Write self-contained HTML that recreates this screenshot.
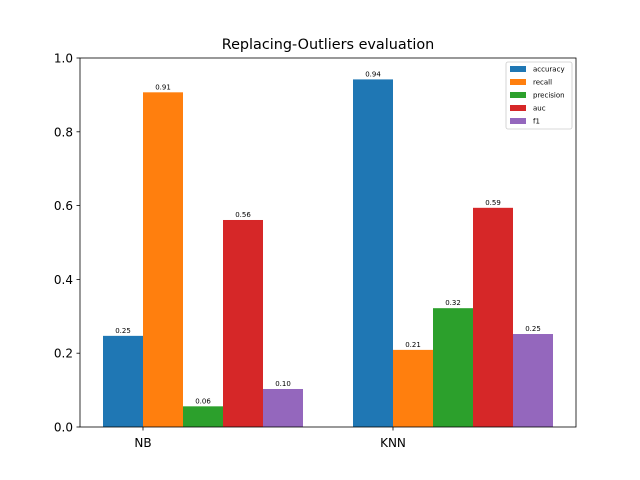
<!DOCTYPE html>
<html><head><meta charset="utf-8"><style>body{margin:0;background:#fff}svg{display:block;font-family:"DejaVu Sans","Liberation Sans",sans-serif}</style></head>
<body>
<svg id="chart" width="640" height="480">
<rect x="0" y="0" width="640" height="480" fill="#fff"/>
<text x="328" y="49" text-anchor="middle" font-size="14.4">Replacing-Outliers evaluation</text>
<g id="bars"></g>
<g id="axes"></g>
</svg>
<script>
const categories = ["NB", "KNN"];
const metrics = ["accuracy", "recall", "precision", "auc", "f1"];
const accuracy = [0.247, 0.942];
const recall = [0.907, 0.209];
const precision = [0.056, 0.322];
const auc = [0.561, 0.594];
const f1 = [0.103, 0.252];
const yTicks = [0.0, 0.2, 0.4, 0.6, 0.8, 1.0];
const colors = ["#1f77b4", "#ff7f0e", "#2ca02c", "#d62728", "#9467bd"];
const series = [accuracy, recall, precision, auc, f1];

const NS = "http://www.w3.org/2000/svg";
const L = 80, R = 576, T = 58, B = 427;
const y = v => B - v * (B - T);
const groupX = i => 143 + i * 250; // tick position
const barW = 40;
const barX = (i, k) => groupX(i) - barW + k * barW;
function mk(tag, attrs, parent) { const e = document.createElementNS(NS, tag); for (const a in attrs) e.setAttribute(a, attrs[a]); parent.appendChild(e); return e; }
const bars = document.getElementById("bars"), axes = document.getElementById("axes");
series.forEach((s, k) => {
  s.forEach((v, i) => {
    const r = mk("rect", {x: barX(i, k), y: y(v), width: barW, height: B - y(v), fill: colors[k]}, bars);
    
    
    const t = mk("text", {x: barX(i, k) + barW / 2, y: y(v) - 3, "text-anchor": "middle", "font-size": "7"}, bars);
    t.textContent = v.toFixed(2);
    
    
  });
});
const frame = mk("rect", {x: L, y: T, width: R - L, height: B - T, fill: "none", stroke: "#000", "stroke-width": "0.8"}, axes);


yTicks.forEach(v => {
  mk("line", {x1: L - 3.5, x2: L, y1: y(v), y2: y(v), stroke: "#000", "stroke-width": "0.8"}, axes);
  const t = mk("text", {x: L - 7, y: y(v) + 4.5, "text-anchor": "end", "font-size": "12"}, axes);
  t.textContent = v.toFixed(1);
  
  
});
categories.forEach((c, i) => {
  mk("line", {x1: groupX(i), x2: groupX(i), y1: B, y2: B + 3.5, stroke: "#000", "stroke-width": "0.8"}, axes);
  const t = mk("text", {x: groupX(i), y: B + 20, "text-anchor": "middle", "font-size": "12"}, axes);
  t.textContent = c;
  
  
});
const lg = mk("g", {}, axes);


mk("rect", {x: 506, y: 62, width: 66, height: 67, fill: "#fff", stroke: "#ccc", "stroke-width": "0.8", rx: 2}, lg);
metrics.forEach((m, k) => {
  const cy = 69 + k * 13;
  mk("rect", {x: 510, y: cy - 3, width: 16, height: 6, fill: colors[k]}, lg);
  const t = mk("text", {x: 533, y: cy + 2.5, "font-size": "7"}, lg);
  t.textContent = m;
  
  
});
</script>
</body></html>
